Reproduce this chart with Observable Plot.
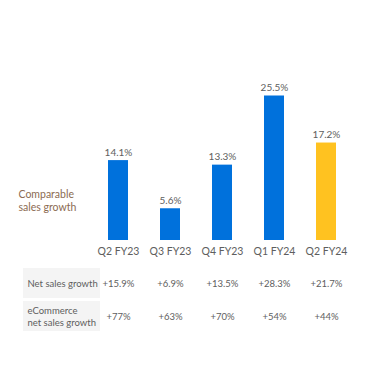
<!DOCTYPE html>
<html>
<head>
<meta charset="utf-8">
<script src="https://cdn.jsdelivr.net/npm/d3@7"></script>
<script src="https://cdn.jsdelivr.net/npm/@observablehq/plot@0.6"></script>
<style>
  html, body { margin: 0; padding: 0; background: #fff; }
  #chart svg { display: block; }
</style>
</head>
<body>
<div id="chart"></div>
<script>
const quarters = ["Q2 FY23", "Q3 FY23", "Q4 FY23", "Q1 FY24", "Q2 FY24"];
const compSales = [14.1, 5.6, 13.3, 25.5, 17.2];
const compLabels = ["14.1%", "5.6%", "13.3%", "25.5%", "17.2%"];
const netSales = ["+15.9%", "+6.9%", "+13.5%", "+28.3%", "+21.7%"];
const eCommerce = ["+77%", "+63%", "+70%", "+54%", "+44%"];
const rowNames = ["Net sales growth", "eCommerce\nnet sales growth"];
const seriesLabel = "Comparable\nsales growth";

const blue = "#0071dc", yellow = "#ffc220", gray = "#5e5e5e", brown = "#8b6b52";
const font = "Lato, 'Open Sans', sans-serif";

const bars = quarters.map((q, i) => ({q, v: compSales[i], label: compLabels[i], hi: i === quarters.length - 1}));

const chart1 = Plot.plot({
  width: 374, height: 262,
  marginLeft: 18, marginTop: 0, marginBottom: 22, marginRight: 0,
  style: {fontFamily: font, fontSize: "10px", color: gray, background: "white"},
  x: {type: "band", domain: quarters, range: [92, 352], paddingInner: 0.615, paddingOuter: 0.3075, label: null},
  y: {domain: [0, 30], range: [240, 70], axis: null},
  marks: [
    Plot.barY(bars, {x: "q", y: "v", fill: d => d.hi ? yellow : blue}),
    Plot.text(bars, {x: "q", y: "v", text: "label", lineAnchor: "bottom", dy: -5, fill: gray, fontSize: 10}),
    Plot.axisX({tickSize: 0, tickPadding: 7, fontSize: 10.5, color: gray}),
    Plot.text([seriesLabel], {frameAnchor: "left", textAnchor: "start", dy: 80, fill: brown, fontSize: 10.5, lineHeight: 1.25})
  ]
});

const cols = ["__label", ...quarters];
const cells = [];
rowNames.forEach((r, ri) => {
  const vals = ri === 0 ? netSales : eCommerce;
  quarters.forEach((q, i) => cells.push({row: r, col: q, text: vals[i]}));
});
const labelCells = rowNames.map(r => ({row: r, col: "__label", text: r}));

const chart2 = Plot.plot({
  width: 374, height: 110,
  margin: 0,
  style: {fontFamily: font, fontSize: "9.5px", color: gray, background: "white"},
  x: {type: "band", domain: cols, range: [40, 352], paddingInner: 0.615, paddingOuter: 0.3075, axis: null},
  y: {type: "band", domain: rowNames, range: [5, 70], paddingInner: 0.088, paddingOuter: 0, axis: null},
  marks: [
    Plot.cell(labelCells, {x: "col", y: "row", fill: "#f4f4f4", insetLeft: -33, insetRight: -24}),
    Plot.text(labelCells, {x: "col", y: "row", text: "text", textAnchor: "start", dx: -39, fill: gray, fontSize: 9.5, lineHeight: 1.25}),
    Plot.text(cells, {x: "col", y: "row", text: "text", fill: gray, fontSize: 9.5})
  ]
});

document.getElementById("chart").append(chart1, chart2);
</script>
</body>
</html>
